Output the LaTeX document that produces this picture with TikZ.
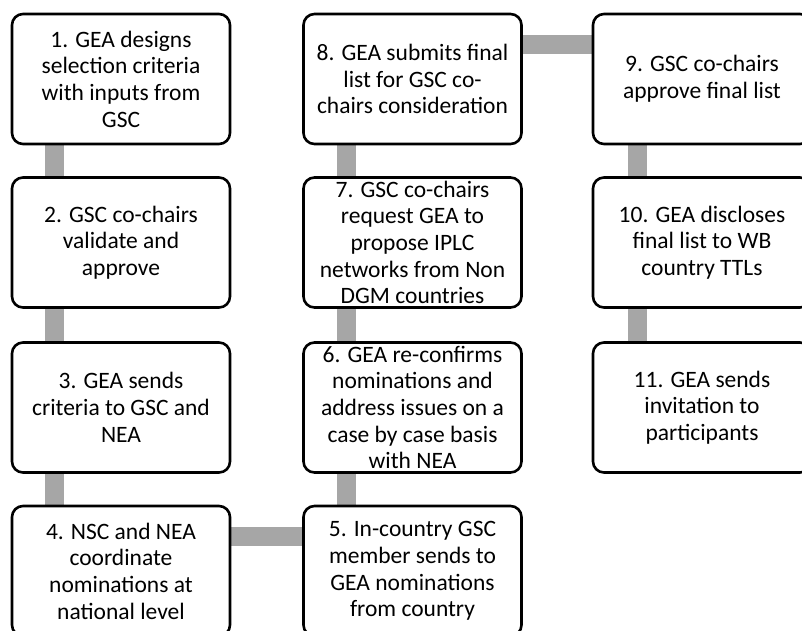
\documentclass[tikz,border=0pt]{standalone}
\usepackage{fontspec}
\setmainfont{Carlito}
\usetikzlibrary{calc}
\usetikzlibrary{backgrounds}
\definecolor{liengris}{HTML}{A6A6A6}

\tikzset{
  etape/.style={draw=black, fill=white, line width=2.6pt, rounded corners=11pt,
    minimum width=218pt, minimum height=130pt, inner sep=0pt, align=center,
    font=\fontsize{23.5}{26.7}\selectfont},
  lien/.style={draw=liengris, line width=19pt}
}

\begin{document}
\begin{tikzpicture}[x=1pt,y=-1pt]

\useasboundingbox (0,0) rectangle (802,630);

% colonnes et lignes
\def \ColA {121}
\def \ColB {412.5}
\def \ColC {702}
\def \LigA {79}
\def \LigB {242.5}
\def \LigC {407.5}
\def \LigD {571}

% les etapes
\node[etape] (e1) at (\ColA,\LigA) {1. GEA designs\\selection criteria\\with inputs from\\GSC};
\node[etape] (e2) at (\ColA,\LigB) {2. GSC co-chairs\\validate and\\approve};
\node[etape] (e3) at (\ColA,\LigC) {3. GEA sends\\criteria to GSC and\\NEA};
\node[etape] (e4) at (\ColA,\LigD) {4. NSC and NEA\\coordinate\\nominations at\\national level};
\node[etape] (e5) at (\ColB,\LigD) {5. In-country GSC\\member sends to\\GEA nominations\\from country};
\node[etape] (e6) at (\ColB,\LigC) {6. GEA re-confirms\\nominations and\\address issues on a\\case by case basis\\with NEA};
\node[etape] (e7) at (\ColB,\LigB) {7. GSC co-chairs\\request GEA to\\propose IPLC\\networks from Non\\DGM countries};
\node[etape] (e8) at (\ColB,\LigA) {8. GEA submits final\\list for GSC co-\\chairs consideration};
\node[etape] (e9) at (\ColC,\LigA) {9. GSC co-chairs\\approve final list};
\node[etape] (e10) at (\ColC,\LigB) {10. GEA discloses\\final list to WB\\country TTLs};
\node[etape] (e11) at (\ColC,\LigC) {11. GEA sends\\invitation to\\participants};

% les liens (sous les cadres)
\begin{scope}[on background layer]
  \foreach \a/\b in {e1/e2,e2/e3,e3/e4,e5/e6,e6/e7,e7/e8}
    \draw[lien] ([xshift=44pt]\a.south west) -- ([xshift=44pt]\b.north west);
  \foreach \a/\b in {e9/e10,e10/e11}
    \draw[lien] ([xshift=46pt]\a.south west) -- ([xshift=46pt]\b.north west);
  \draw[lien] ([yshift=-32pt]e4.north east) -- ([yshift=-32pt]e5.north west);
  \draw[lien] ([yshift=-32pt]e8.north east) -- ([yshift=-32pt]e9.north west);
\end{scope}

\end{tikzpicture}
\end{document}
